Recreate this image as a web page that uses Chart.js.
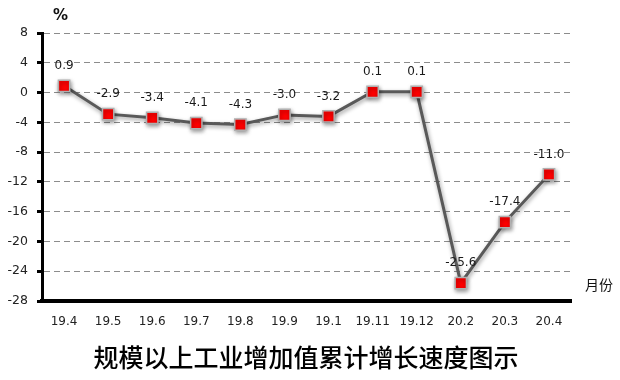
<!DOCTYPE html>
<html>
<head>
<meta charset="utf-8">
<script src="https://cdn.jsdelivr.net/npm/chart.js@4/dist/chart.umd.min.js"></script>
<style>
  html, body { margin: 0; padding: 0; background: #fff; }
  #wrap { width: 620px; height: 380px; position: relative; }
</style>
</head>
<body>
<div id="wrap"><canvas id="c" width="620" height="380"></canvas></div>
<script>
const categories = ['19.4', '19.5', '19.6', '19.7', '19.8', '19.9', '19.1', '19.11', '19.12', '20.2', '20.3', '20.4'];
const growthValues = [0.9, -2.9, -3.4, -4.1, -4.3, -3.0, -3.2, 0.1, 0.1, -25.6, -17.4, -11.0];
const yTickValues = [8, 4, 0, -4, -8, -12, -16, -20, -24, -28];
const yUnitLabel = '%';
const xUnitLabel = '月份';
const chartTitle = '规模以上工业增加值累计增长速度图示';

const shadowPlugin = {
  id: 'shadow',
  beforeDatasetsDraw(chart) {
    const ctx = chart.ctx;
    ctx.save();
    ctx.shadowColor = 'rgba(0,0,0,0.4)';
    ctx.shadowBlur = 4;
    ctx.shadowOffsetX = 1;
    ctx.shadowOffsetY = 2;
  },
  afterDatasetsDraw(chart) {
    chart.ctx.restore();
  }
};

const labelPlugin = {
  id: 'labels',
  afterDraw(chart) {
    const ctx = chart.ctx;
    const meta = chart.getDatasetMeta(0);
    ctx.save();
    ctx.font = '12px "DejaVu Sans"';
    ctx.fillStyle = '#1a1a1a';
    ctx.textAlign = 'center';
    ctx.textBaseline = 'middle';
    meta.data.forEach((pt, i) => {
      ctx.fillText(growthValues[i].toFixed(1), pt.x, pt.y - 20);
    });
    ctx.font = 'bold 15px "DejaVu Sans"';
    ctx.fillStyle = '#111';
    ctx.textAlign = 'left';
    ctx.fillText(yUnitLabel, 53, 16);
    ctx.font = '14px "Noto Sans CJK SC"';
    ctx.fillText(xUnitLabel, 585, 285);
    ctx.font = '500 25px "Noto Sans CJK SC"';
    ctx.textAlign = 'center';
    ctx.fillStyle = '#000';
    ctx.fillText(chartTitle, 306, 357);
    ctx.restore();
  }
};

new Chart(document.getElementById('c'), {
  type: 'line',
  data: {
    labels: categories,
    datasets: [{
      data: growthValues,
      borderColor: '#595959',
      borderWidth: 3,
      pointStyle: 'rect',
      pointRadius: 8,
      pointBackgroundColor: '#ff0000',
      pointBorderColor: '#b0b0b0',
      pointBorderWidth: 1.5,
      tension: 0
    }]
  },
  options: {
    responsive: false,
    animation: false,
    devicePixelRatio: 1,
    layout: { padding: { left: 0, right: 49, top: 33, bottom: 45 } },
    plugins: {
      legend: { display: false },
      tooltip: { enabled: false },
      title: { display: false }
    },
    scales: {
      x: {
        offset: true,
        grid: { display: false, drawTicks: false },
        border: { display: true, color: '#000', width: 4 },
        ticks: {
          color: '#222',
          font: { family: 'DejaVu Sans', size: 12 },
          padding: 14,
          maxRotation: 0,
          autoSkip: false
        },
        afterFit(scale) { scale.height = 34; }
      },
      y: {
        min: -28,
        max: 8,
        afterBuildTicks(scale) { scale.ticks = yTickValues.map(v => ({ value: v })); },
        grid: {
          color: '#8c8c8c',
          lineWidth: 1,
          drawTicks: true,
          tickLength: 5,
          tickColor: '#000',
          tickWidth: 3,
          tickBorderDash: []
        },
        border: { display: true, color: '#000', width: 3, dash: [6, 4] },
        ticks: {
          color: '#222',
          font: { family: 'DejaVu Sans', size: 12.5 },
          padding: 9
        },
        afterFit(scale) { scale.width = 42; }
      }
    }
  },
  plugins: [shadowPlugin, labelPlugin]
});
</script>
</body>
</html>
